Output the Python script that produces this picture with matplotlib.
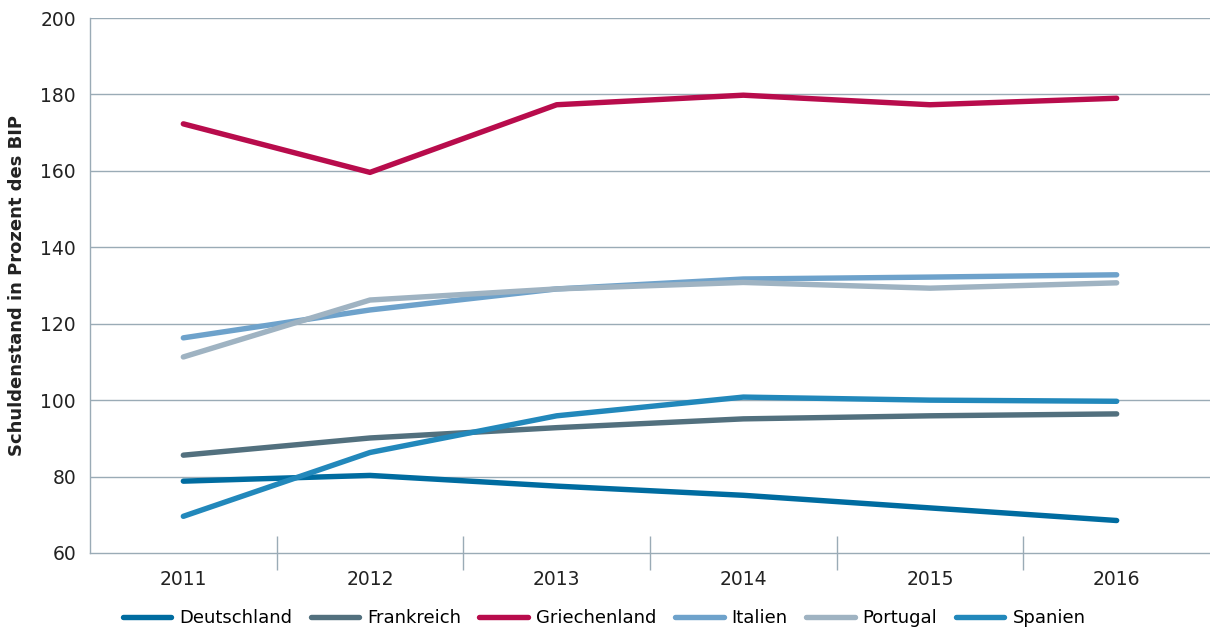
import matplotlib
matplotlib.use("Agg")
import matplotlib.pyplot as plt
import numpy as np

years = ["2011", "2012", "2013", "2014", "2015", "2016"]
deutschland = [78.8, 80.3, 77.5, 75.1, 71.8, 68.5]
frankreich = [85.6, 90.1, 92.8, 95.1, 95.9, 96.4]
griechenland = [172.3, 159.6, 177.3, 179.8, 177.3, 179.0]
italien = [116.3, 123.6, 129.1, 131.7, 132.2, 132.8]
portugal = [111.3, 126.2, 129.1, 130.8, 129.3, 130.7]
spanien = [69.6, 86.3, 95.9, 100.8, 100.0, 99.7]

series = [
    ("Deutschland", deutschland, "#006ca0"),
    ("Frankreich", frankreich, "#52707e"),
    ("Griechenland", griechenland, "#b80c4c"),
    ("Italien", italien, "#6ea2cb"),
    ("Portugal", portugal, "#9fb3c2"),
    ("Spanien", spanien, "#2288bb"),
]

plt.rcParams['font.family'] = ['DejaVu Sans']
fig = plt.figure(figsize=(12.10, 6.33), dpi=100)
ax = fig.add_axes([90/1210, 1 - 553/633, 1 - 90/1210, (553-18)/633])

x = np.arange(len(years))
grid_c = "#9aabb6"
for v in range(80, 201, 20):
    ax.axhline(v, color=grid_c, lw=1.0, zorder=1)

for name, vals, col in series:
    ax.plot(x, vals, color=col, lw=3.9, solid_capstyle='round',
            solid_joinstyle='round', label=name, zorder=3)

ax.set_xlim(-0.5, len(years) - 0.5)
ax.set_ylim(60, 200)
ax.set_yticks(range(60, 201, 20))
ax.set_xticks(x)
ax.set_xticklabels(years)
ax.set_xticks(np.arange(0.5, len(years) - 1, 1), minor=True)
ax.tick_params(axis='x', which='major', length=0, pad=12, labelsize=13.5, colors="#222222")
ax.tick_params(axis='x', which='minor', length=24, direction='inout', color=grid_c, width=1)
ax.tick_params(axis='y', length=0, pad=10, labelsize=13.5, colors="#222222")

for s in ['top', 'right']:
    ax.spines[s].set_visible(False)
for s in ['left', 'bottom']:
    ax.spines[s].set_color(grid_c)
    ax.spines[s].set_linewidth(1.0)

ax.set_ylabel("Schuldenstand in Prozent des BIP", fontsize=13, fontweight='bold',
              color="#222222", labelpad=10)

leg = fig.legend(loc='center', bbox_to_anchor=(604/1210, 1 - 618/633), ncol=6,
                 frameon=False, fontsize=13, handlelength=2.7, handletextpad=0.45,
                 columnspacing=1.0)
for line in leg.get_lines():
    line.set_linewidth(3.9)
    line.set_solid_capstyle('round')

fig.savefig("out.png", dpi=100)
